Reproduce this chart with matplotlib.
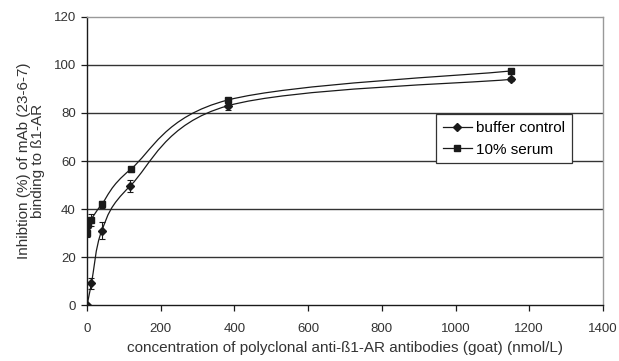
import numpy as np
import matplotlib
matplotlib.use("Agg")
import matplotlib.pyplot as plt
from matplotlib.path import Path
from matplotlib.patches import PathPatch

plt.rcParams['font.family'] = ['Liberation Sans', 'DejaVu Sans']

# Data
buf_x = [0, 12, 40, 117, 382, 1150]
buf_y = [0, 9, 31, 49.6, 83, 94]
buf_err = [0.5, 2.2, 3.5, 2.5, 1.6, 0.8]

ser_x = [1, 3, 10, 40, 118, 382, 1150]
ser_y = [30, 33.6, 35.4, 42, 56.5, 85.4, 97.5]
ser_err = [1.5, 1.5, 2.5, 1.5, 1.0, 1.0, 0.8]

x_ticks = [0, 200, 400, 600, 800, 1000, 1200, 1400]
y_ticks = [0, 20, 40, 60, 80, 100, 120]


def smooth_path(xs, ys, t=1/6):
    pts = np.column_stack([xs, ys]).astype(float)
    n = len(pts)
    verts = [pts[0]]
    codes = [Path.MOVETO]
    for i in range(n - 1):
        p0 = pts[i - 1] if i > 0 else pts[i]
        p1 = pts[i]
        p2 = pts[i + 1]
        p3 = pts[i + 2] if i + 2 < n else pts[i + 1]
        c1 = p1 + (p2 - p0) * t
        c2 = p2 - (p3 - p1) * t
        verts += [c1, c2, p2]
        codes += [Path.CURVE4] * 3
    return Path(verts, codes)


fig = plt.figure(figsize=(6.19, 3.61), dpi=100)
ax = fig.add_axes([0.1406, 0.155, 0.8334, 0.798])

ax.set_xlim(0, 1400)
ax.set_ylim(0, 120)

for yv in y_ticks[1:-1]:
    ax.axhline(yv, color='#333333', lw=1.0, zorder=1)

for xs, ys in [(buf_x, buf_y), (ser_x, ser_y)]:
    ax.add_patch(PathPatch(smooth_path(xs, ys), fc='none', ec='#1a1a1a', lw=0.9, zorder=2))

ax.errorbar(buf_x, buf_y, yerr=buf_err, fmt='none', ecolor='#1a1a1a', elinewidth=0.8, capsize=2.5, capthick=0.8, zorder=3)
ax.errorbar(ser_x, ser_y, yerr=ser_err, fmt='none', ecolor='#1a1a1a', elinewidth=0.8, capsize=2.5, capthick=0.8, zorder=3)
ax.plot(buf_x, buf_y, ls='none', marker='D', ms=3.8, color='#1a1a1a', zorder=4)
ax.plot(ser_x, ser_y, ls='none', marker='s', ms=4.6, color='#1a1a1a', zorder=4)

# legend proxies
h1, = ax.plot([], [], color='#1a1a1a', lw=0.9, marker='D', ms=3.8, label='buffer control')
h2, = ax.plot([], [], color='#1a1a1a', lw=0.9, marker='s', ms=4.6, label='10% serum')
leg = ax.legend(handles=[h1, h2], loc='upper left', bbox_to_anchor=(0.676, 0.663),
                borderaxespad=0, fancybox=False, framealpha=1, edgecolor='#333333',
                fontsize=11, handlelength=1.9, handletextpad=0.3, borderpad=0.45,
                labelspacing=0.5)
leg.get_frame().set_linewidth(0.9)
leg.set_zorder(5)

ax.spines['left'].set_color('#1a1a1a')
ax.spines['bottom'].set_color('#1a1a1a')
ax.spines['top'].set_color('#999999')
ax.spines['right'].set_color('#999999')
for s in ax.spines.values():
    s.set_linewidth(1.0)

ax.set_xticks(x_ticks)
ax.set_yticks(y_ticks)
ax.tick_params(axis='both', direction='out', length=4, width=0.9, color='#1a1a1a',
               labelsize=9.5, labelcolor='#333333')
ax.tick_params(axis='x', pad=9)
ax.tick_params(axis='y', pad=4)

ax.set_xlabel('concentration of polyclonal anti-ß1-AR antibodies (goat) (nmol/L)',
              fontsize=11, color='#333333', labelpad=4)
ax.set_ylabel('Inhibtion (%) of mAb (23-6-7)\nbinding to ß1-AR', fontsize=11,
              color='#333333', labelpad=6, linespacing=1.05)

fig.savefig('out.png', dpi=100)
